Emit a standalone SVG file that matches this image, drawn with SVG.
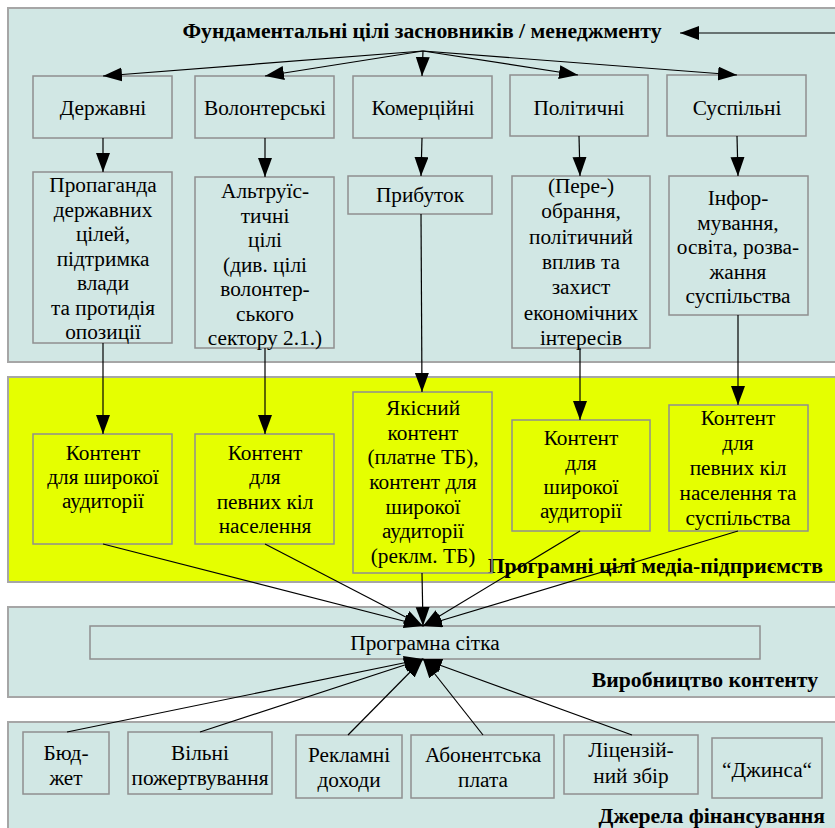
<svg xmlns="http://www.w3.org/2000/svg" width="835" height="828" viewBox="0 0 835 828">
  <style>
    .cluster { fill: #d1e7e4; stroke: #a6a6a6; stroke-width: 2; }
    .yellow { fill: #e5ff00; stroke: #a6a6a6; stroke-width: 2; }
    .box { fill: none; stroke: #8f8f8f; stroke-width: 1.5; }
    .t { font-family: 'Liberation Serif', 'Times New Roman', serif; font-size: 21.3px; fill: #000; text-anchor: middle; }
    .title { font-family: 'Liberation Serif', 'Times New Roman', serif; font-size: 21.7px; font-weight: bold; fill: #000; }
    .edge { stroke: #000; stroke-width: 1.2; fill: none; marker-end: url(#arrow); }
  </style>
  <defs>
    <marker id="arrow" markerUnits="userSpaceOnUse" markerWidth="20" markerHeight="15" refX="19" refY="7" orient="auto">
      <path d="M0,0 L19,7 L0,14 z" fill="#000"/>
    </marker>
  </defs>
  <rect width="835" height="828" fill="#fff"/>

  <!-- cluster backgrounds -->
  <g id="cluster-goals">
    <rect class="cluster" x="8" y="8" width="840" height="354"/>
    <text class="title" x="422" y="38" text-anchor="middle">Фундаментальні цілі засновників / менеджменту</text>
  </g>
  <g id="cluster-programme">
    <rect class="yellow" x="8" y="377" width="840" height="205"/>
    <text class="title" x="823" y="573" text-anchor="end">Програмні цілі медіа-підприємств</text>
  </g>
  <g id="cluster-production">
    <rect class="cluster" x="8" y="607" width="840" height="90"/>
    <text class="title" x="818" y="687" text-anchor="end">Виробництво контенту</text>
  </g>
  <g id="cluster-funding">
    <rect class="cluster" x="8" y="722" width="840" height="120"/>
    <text class="title" x="825" y="823" text-anchor="end">Джерела фінансування</text>
  </g>

  <!-- row 1: founder types -->
  <g id="n-state"><rect class="box" x="33" y="76" width="139" height="62"/><text class="t" x="103" y="115">Державні</text></g>
  <g id="n-volunteer"><rect class="box" x="195" y="76" width="139" height="62"/><text class="t" x="265" y="115">Волонтерські</text></g>
  <g id="n-commercial"><rect class="box" x="353" y="76" width="139" height="62"/><text class="t" x="423" y="115">Комерційні</text></g>
  <g id="n-political"><rect class="box" x="510" y="75" width="138" height="61"/><text class="t" x="579" y="115">Політичні</text></g>
  <g id="n-social"><rect class="box" x="667" y="75" width="139" height="61"/><text class="t" x="737" y="115">Суспільні</text></g>

  <!-- row 2: fundamental goals -->
  <g id="n-propaganda"><rect class="box" x="33" y="172" width="139" height="171"/>
    <text class="t" x="103" y="192">Пропаганда</text>
    <text class="t" x="103" y="216.5">державних</text>
    <text class="t" x="103" y="241">цілей,</text>
    <text class="t" x="103" y="265.5">підтримка</text>
    <text class="t" x="103" y="290">влади</text>
    <text class="t" x="103" y="314.5">та протидія</text>
    <text class="t" x="103" y="339">опозиції</text>
  </g>
  <g id="n-altruistic"><rect class="box" x="195" y="177" width="139" height="171"/>
    <text class="t" x="265" y="198">Альтруїс-</text>
    <text class="t" x="265" y="222.5">тичні</text>
    <text class="t" x="265" y="247">цілі</text>
    <text class="t" x="265" y="271.5">(див. цілі</text>
    <text class="t" x="265" y="296">волонтер-</text>
    <text class="t" x="265" y="320.5">ського</text>
    <text class="t" x="265" y="345">сектору 2.1.)</text>
  </g>
  <g id="n-profit"><rect class="box" x="348" y="176" width="144" height="38"/>
    <text class="t" x="420" y="202">Прибуток</text>
  </g>
  <g id="n-election"><rect class="box" x="512" y="176" width="138" height="172"/>
    <text class="t" x="581" y="193">(Пере-)</text>
    <text class="t" x="581" y="218">обрання,</text>
    <text class="t" x="581" y="243.5">політичний</text>
    <text class="t" x="581" y="269">вплив та</text>
    <text class="t" x="581" y="294">захист</text>
    <text class="t" x="581" y="319.5">економічних</text>
    <text class="t" x="581" y="345">інтересів</text>
  </g>
  <g id="n-inform"><rect class="box" x="669" y="176" width="139" height="139"/>
    <text class="t" x="738" y="205">Інфор-</text>
    <text class="t" x="738" y="229.5">мування,</text>
    <text class="t" x="738" y="254">освіта, розва-</text>
    <text class="t" x="738" y="278.5">жання</text>
    <text class="t" x="738" y="303">суспільства</text>
  </g>

  <!-- row 3: programme goals -->
  <g id="n-content-broad-1"><rect class="box" x="33" y="434" width="139" height="110"/>
    <text class="t" x="103" y="460">Контент</text>
    <text class="t" x="103" y="484">для широкої</text>
    <text class="t" x="103" y="508">аудиторії</text>
  </g>
  <g id="n-content-circles"><rect class="box" x="195" y="434" width="139" height="110"/>
    <text class="t" x="265" y="460">Контент</text>
    <text class="t" x="265" y="484">для</text>
    <text class="t" x="265" y="508.5">певних кіл</text>
    <text class="t" x="265" y="533">населення</text>
  </g>
  <g id="n-quality"><rect class="box" x="353" y="392" width="139" height="181"/>
    <text class="t" x="423" y="415">Якісний</text>
    <text class="t" x="423" y="439.5">контент</text>
    <text class="t" x="423" y="464">(платне ТБ),</text>
    <text class="t" x="423" y="489">контент для</text>
    <text class="t" x="423" y="513.5">широкої</text>
    <text class="t" x="423" y="538">аудиторії</text>
    <text class="t" x="423" y="563">(реклм. ТБ)</text>
  </g>
  <g id="n-content-broad-2"><rect class="box" x="512" y="420" width="138" height="111"/>
    <text class="t" x="581" y="445">Контент</text>
    <text class="t" x="581" y="469.5">для</text>
    <text class="t" x="581" y="494">широкої</text>
    <text class="t" x="581" y="518">аудиторії</text>
  </g>
  <g id="n-content-society"><rect class="box" x="669" y="405" width="139" height="126"/>
    <text class="t" x="738" y="425">Контент</text>
    <text class="t" x="738" y="450">для</text>
    <text class="t" x="738" y="475">певних кіл</text>
    <text class="t" x="738" y="500">населення та</text>
    <text class="t" x="738" y="525">суспільства</text>
  </g>

  <!-- content production -->
  <g id="n-schedule"><rect class="box" x="90" y="626" width="670" height="33"/>
    <text class="t" x="425" y="650">Програмна сітка</text>
  </g>

  <!-- funding sources -->
  <g id="n-budget"><rect class="box" x="23" y="732" width="86" height="62"/>
    <text class="t" x="66" y="760">Бюд-</text>
    <text class="t" x="66" y="785">жет</text>
  </g>
  <g id="n-donations"><rect class="box" x="128" y="732" width="144" height="62"/>
    <text class="t" x="200" y="760">Вільні</text>
    <text class="t" x="200" y="785">пожертвування</text>
  </g>
  <g id="n-ads"><rect class="box" x="296" y="735" width="106" height="63"/>
    <text class="t" x="349" y="762">Рекламні</text>
    <text class="t" x="349" y="787">доходи</text>
  </g>
  <g id="n-subscription"><rect class="box" x="411" y="735" width="143" height="63"/>
    <text class="t" x="483" y="762">Абонентська</text>
    <text class="t" x="483" y="787">плата</text>
  </g>
  <g id="n-licence"><rect class="box" x="564" y="735" width="134" height="59"/>
    <text class="t" x="631" y="757">Ліцензій-</text>
    <text class="t" x="631" y="783">ний збір</text>
  </g>
  <g id="n-jeans"><rect class="box" x="712" y="738" width="110" height="60"/>
    <text class="t" x="767" y="777">“Джинса“</text>
  </g>

  <!-- connectors -->
  <g id="connectors">
    <path class="edge" d="M835,33 L680,33"/>
    <path class="edge" d="M423,51 L103,76"/>
    <path class="edge" d="M423,51 L265,76"/>
    <path class="edge" d="M423,51 L422,76"/>
    <path class="edge" d="M423,51 L578,75"/>
    <path class="edge" d="M423,51 L737,75"/>

    <path class="edge" d="M103,138 L103,172"/>
    <path class="edge" d="M265,138 L265,177"/>
    <path class="edge" d="M422,138 L421,176"/>
    <path class="edge" d="M579,136 L580,176"/>
    <path class="edge" d="M737,136 L738,176"/>

    <path class="edge" d="M103,343 L103,434"/>
    <path class="edge" d="M265,348 L265,434"/>
    <path class="edge" d="M421,214 L422,392"/>
    <path class="edge" d="M580,348 L580,420"/>
    <path class="edge" d="M738,315 L738,405"/>

    <path class="edge" d="M103,544 L423,626"/>
    <path class="edge" d="M265,544 L423,626"/>
    <path class="edge" d="M422,573 L423,626"/>
    <path class="edge" d="M580,531 L423,626"/>
    <path class="edge" d="M738,531 L423,626"/>

    <path class="edge" d="M67,732 L423,659"/>
    <path class="edge" d="M200,732 L423,659"/>
    <path class="edge" d="M348,735 L423,659"/>
    <path class="edge" d="M483,735 L423,659"/>
    <path class="edge" d="M632,735 L423,659"/>
  </g>
</svg>
